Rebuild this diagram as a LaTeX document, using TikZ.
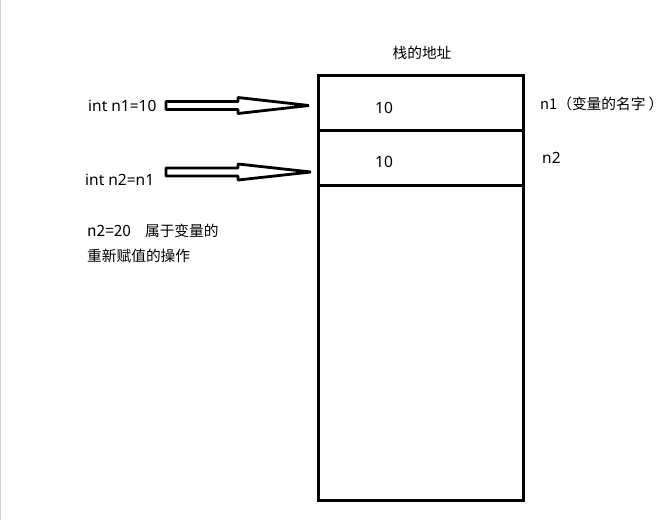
\documentclass[tikz,border=0pt]{standalone}
\usepackage{fontspec}
\setmainfont{Noto Sans}
\newfontfamily\cjk{Noto Sans CJK SC}
\begin{document}
\begin{tikzpicture}[x=1pt,y=-1pt,
  lbl/.style={inner sep=0pt,anchor=west,font=\fontsize{15.5}{17}\selectfont},
  cj/.style={inner sep=0pt,anchor=west,font=\cjk\fontsize{14.7}{16}\selectfont},
  bigarrow/.style={draw=black,line width=2.8pt,fill=white,line join=bevel},
  stackbox/.style={draw=black,line width=3pt}]
\useasboundingbox (0,0) rectangle (668,520);
\fill[white] (0,0) rectangle (668,520);
\draw[gray!40,line width=1.2pt] (0.6,0) -- (0.6,520);
% stack
\draw[stackbox] (318,75) rectangle (523,500);
\coordinate (d1l) at (318,130); \coordinate (d1r) at (523,130);
\coordinate (d2l) at (318,185); \coordinate (d2r) at (523,185);
\draw[stackbox] (d1l) -- (d1r);
\draw[stackbox] (d2l) -- (d2r);
\node[cj,anchor=center] (title) at (422,53) {栈的地址};
\node[lbl,anchor=center] (v1) at (384,107.5) {10};
\node[lbl,anchor=center] (v2) at (384,161.5) {10};
\node[cj] (n1) at (540,104) {n1（变量的名字\hspace{3pt}）};
\node[lbl] (n2) at (542,158) {n2};
% left texts
\node[lbl] (t1) at (88,106) {int n1=10};
\node[lbl] (t2) at (85,180) {int n2=n1};
\node[cj] (t3) at (87,231) {\fontsize{15.5}{17}\selectfont n2=20\hspace{14pt}\fontsize{14.7}{16}\selectfont 属于变量的};
\node[cj] (t4) at (87,256) {重新赋值的操作};
% arrows
\draw[bigarrow] (166,101.5) -- (238,101.5) -- (238,97.5) -- (309,105.5) -- (238,113.5) -- (238,109.5) -- (166,109.5) -- cycle;
\draw[bigarrow] (166,168) -- (238,168) -- (238,164) -- (311,172) -- (238,180) -- (238,176) -- (166,176) -- cycle;
\end{tikzpicture}
\end{document}
